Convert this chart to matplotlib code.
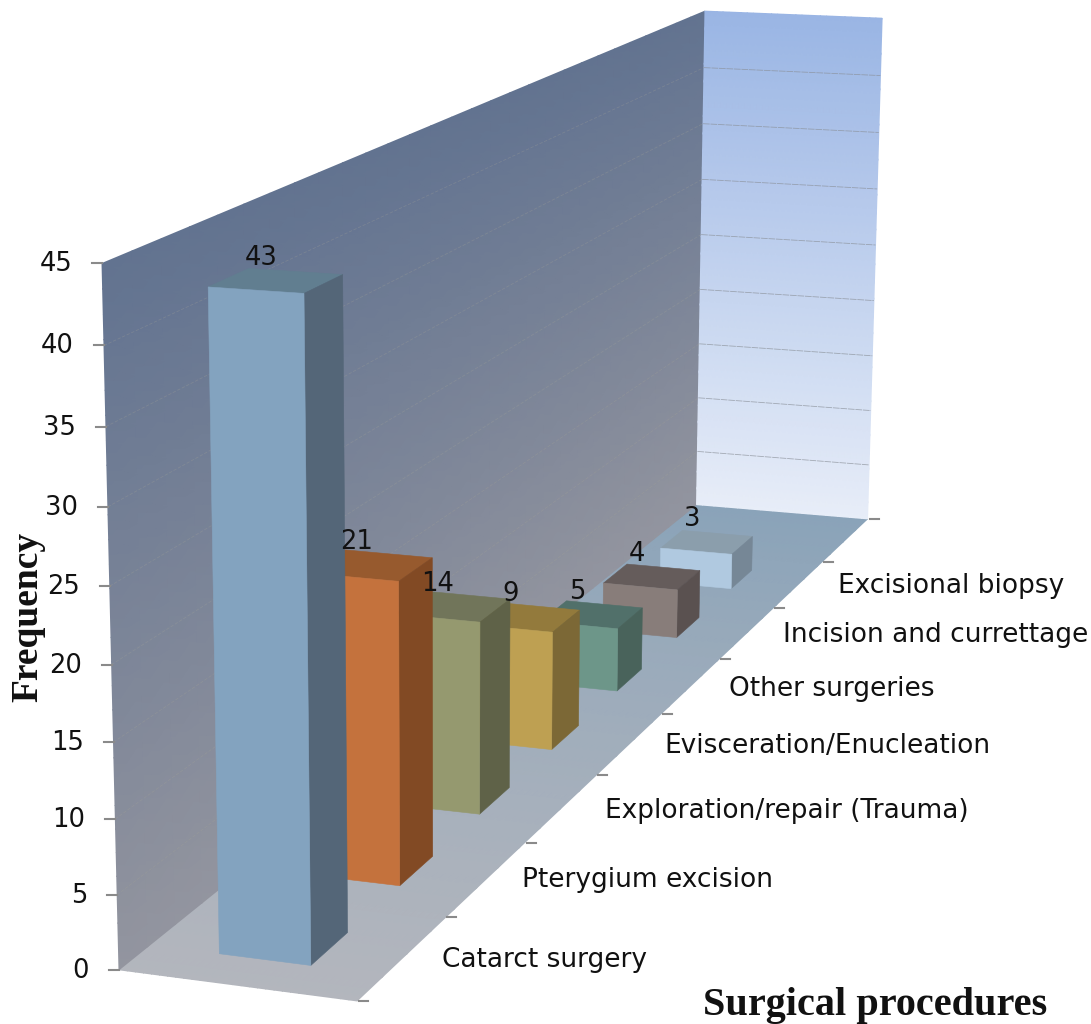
import numpy as np
import matplotlib
matplotlib.use("Agg")
import matplotlib.pyplot as plt
from matplotlib.colors import LinearSegmentedColormap

categories = ["Catarct surgery", "Pterygium excision", "Exploration/repair (Trauma)",
              "Evisceration/Enucleation", "Other surgeries", "Incision and currettage",
              "Excisional biopsy"]
frequencies = [43, 21, 14, 9, 5, 4, 3]
value_ticks = [0, 5, 10, 15, 20, 25, 30, 35, 40, 45]

front_colors = ["#83a3bf", "#c4723d", "#95996f", "#bea052", "#6d9689", "#887d7a", "#b0c9e0"]
side_colors = ["#546678", "#824a24", "#5f6248", "#7c6836", "#49635b", "#5a5150", "#768796"]
top_colors = ["#617e90", "#975a2e", "#71755a", "#937a3c", "#51706a", "#655c5b", "#8b9eac"]

# depth axis has one empty slot behind the last category
n_slots = 8
z_max = 45
bar_x = (0.30, 0.69)
bar_y = (0.30, 0.70)

# camera calibration: (width, depth, value) -> screen pixel
world_pts = [(0, 0, 0), (1, 0, 0), (1, 8, 0), (0, 8, 0), (0, 0, 45), (0, 8, 45), (1, 8, 45),
             (1, 1, 0), (1, 4, 0), (0, 0, 25)]
screen_pts = [(118, 969), (358, 1002), (867, 519), (697, 505), (102, 264), (705, 11), (882, 18),
              (445, 917), (661, 714), (110, 586)]


def fit_camera(world, screen):
    rows, rhs = [], []
    for (x, y, z), (u, v) in zip(world, screen):
        rows.append([x, y, z, 1, 0, 0, 0, 0, -u * x, -u * y, -u * z])
        rows.append([0, 0, 0, 0, x, y, z, 1, -v * x, -v * y, -v * z])
        rhs += [u, v]
    sol = np.linalg.lstsq(np.array(rows, float), np.array(rhs, float), rcond=None)[0]
    return np.append(sol, 1).reshape(3, 4)


camera = fit_camera(world_pts, screen_pts)


def project(x, y, z):
    x, y, z = np.broadcast_arrays(np.asarray(x, float), np.asarray(y, float), np.asarray(z, float))
    pts = np.stack([x, y, z, np.ones_like(x)], axis=-1) @ camera.T
    return pts[..., 0] / pts[..., 2], pts[..., 1] / pts[..., 2]


def gradient_panel(ax, x, y, z, shade, low, high):
    cmap = LinearSegmentedColormap.from_list("panel", [low, high])
    u, v = project(x, y, z)
    ax.pcolormesh(u, v, shade, cmap=cmap, vmin=0, vmax=1, shading="gouraud", zorder=1)


def draw_walls(ax):
    s, t = np.meshgrid(np.linspace(0, 1, 30), np.linspace(0, 1, 30))
    # floor
    gradient_panel(ax, s, t * n_slots, 0 * s, t, "#b3b6bd", "#8aa3b9")
    # side wall running into the depth
    gradient_panel(ax, 0 * s, s * n_slots, t * z_max, t, "#93959f", "#627390")
    # back wall
    gradient_panel(ax, s, n_slots + 0 * s, t * z_max, t, "#e7edf8", "#9ab5e4")

    for z in value_ticks[1:-1]:
        u, v = project([0, 0], [0, n_slots], [z, z])
        ax.plot(u, v, color="#a3a398", lw=0.6, ls=(0, (4, 2)), alpha=0.3, zorder=2)
        u, v = project([0, 1], [n_slots, n_slots], [z, z])
        ax.plot(u, v, color="#8a9098", lw=0.6, ls=(0, (8, 1)), alpha=0.7, zorder=2)


def draw_axes(ax):
    for z in value_ticks:
        u, v = project(0, 0, z)
        ax.plot([u - 10, u], [v, v], color="#8a8a8a", lw=1.5, zorder=3)
        ax.text(u - 30, v + 1, str(z), ha="right", va="center", fontsize=18.5, color="#111111", zorder=6)
    for i in range(n_slots + 1):
        u, v = project(1, i, 0)
        ax.plot([u + 2, u + 11], [v, v], color="#8a8a8a", lw=1.5, zorder=3)


def draw_bars(ax):
    x0, x1 = bar_x
    # back to front so the nearer bars cover the farther ones
    for i in range(len(frequencies) - 1, -1, -1):
        h = frequencies[i]
        y0, y1 = i + bar_y[0], i + bar_y[1]
        faces = [
            (([x0, x1, x1, x0], [y0, y0, y1, y1], [h, h, h, h]), top_colors[i]),
            (([x1, x1, x1, x1], [y0, y1, y1, y0], [0, 0, h, h]), side_colors[i]),
            (([x0, x1, x1, x0], [y0, y0, y0, y0], [0, 0, h, h]), front_colors[i]),
        ]
        zo = 4 + (len(frequencies) - i) * 0.1
        for (fx, fy, fz), col in faces:
            u, v = project(fx, fy, fz)
            ax.fill(u, v, color=col, lw=0.4, zorder=zo)
        u, v = project((x0 + x1) / 2, i + 0.5, h)
        ax.text(u - 15, v - 23, str(h), ha="center", va="center", fontsize=18.5, color="#111111", zorder=7)


def draw_labels(ax):
    label_pos = [(544, 960), (648, 880), (787, 811), (827, 746), (832, 689), (936, 635), (951, 586)]
    for name, (px, py) in zip(categories, label_pos):
        ax.text(px, py, name, ha="center", va="center", fontsize=19, color="#111111", zorder=7)
    ax.text(28, 617, "Frequency", rotation=90, ha="center", va="center", fontsize=27,
            fontweight="bold", family="Liberation Serif", color="#111111", zorder=7)
    ax.text(875, 1006, "Surgical procedures", ha="center", va="center", fontsize=29,
            fontweight="bold", family="Liberation Serif", color="#111111", zorder=7)


fig = plt.figure(figsize=(10.91, 10.24), dpi=100)
ax = fig.add_axes([0, 0, 1, 1])
ax.set_xlim(0, 1091)
ax.set_ylim(1024, 0)
ax.axis("off")

draw_walls(ax)
draw_axes(ax)
draw_bars(ax)
draw_labels(ax)

fig.savefig("out.png", dpi=100)
plt.close(fig)
